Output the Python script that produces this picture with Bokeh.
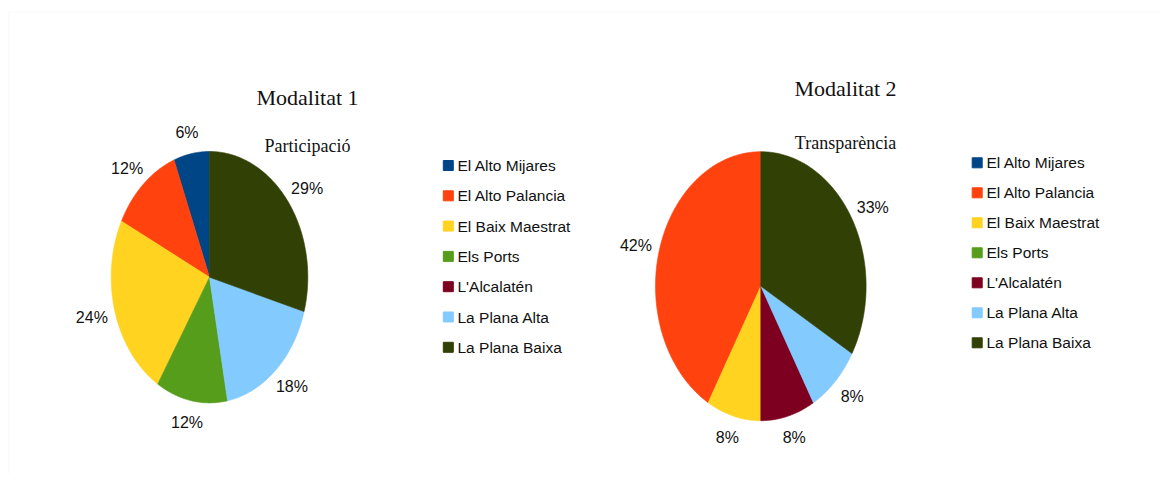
import numpy as np
from bokeh.plotting import figure
from bokeh.models import Range1d, ColumnDataSource, BoxAnnotation
from bokeh.core.properties import value
from bokeh.embed import file_html
from bokeh.resources import INLINE

# ---- data ----
categories = ["El Alto Mijares", "El Alto Palancia", "El Baix Maestrat", "Els Ports",
              "L'Alcalatén", "La Plana Alta", "La Plana Baixa"]
colors = ["#004586", "#ff420e", "#ffd320", "#579d1c", "#7e0021", "#83caff", "#314004"]
values_1 = [1, 2, 4, 2, 0, 3, 5]   # Modalitat 1 - Participació
values_2 = [0, 5, 1, 0, 1, 1, 4]   # Modalitat 2 - Transparència
titles = ["Modalitat 1", "Modalitat 2"]
subtitles = ["Participació", "Transparència"]

W, H = 1160, 474
p = figure(width=W, height=H, x_range=Range1d(0, W), y_range=Range1d(H, 0),
           output_backend="svg", toolbar_location=None, min_border=0,
           outline_line_color=None)
p.axis.visible = False
p.grid.visible = False
p.background_fill_color = "white"

p.add_layout(BoxAnnotation(left=8.5, right=1300, top=11.5, bottom=600,
                           fill_alpha=0, line_color="#e8e8e8", line_width=1))

SANS = value("Liberation Sans")
SERIF = value("Liberation Serif")


def draw_pie(vals, cx, cy, rx, ry, padx, pady):
    total = float(sum(vals))
    start = 0.0
    xs, ys, cols = [], [], []
    lx, ly, lt = [], [], []
    for v, c in zip(vals, colors):
        if v == 0:
            continue
        frac = v / total
        a0 = start * 2 * np.pi
        a1 = (start + frac) * 2 * np.pi
        t = np.linspace(a0, a1, max(int(frac * 360), 2) + 1)
        xs.append([cx] + list(cx - rx * np.sin(t)))
        ys.append([cy] + list(cy - ry * np.cos(t)))
        cols.append(c)
        mid = (a0 + a1) / 2
        lx.append(cx - (rx + padx) * np.sin(mid))
        ly.append(cy - (ry + pady) * np.cos(mid))
        lt.append(f"{round(100 * frac)}%")
        start += frac
    src = ColumnDataSource(dict(xs=xs, ys=ys, c=cols))
    p.patches("xs", "ys", source=src, fill_color="c", line_color="c", line_width=0.6)
    lsrc = ColumnDataSource(dict(x=lx, y=ly, t=lt))
    p.text("x", "y", text="t", source=lsrc, text_font=SANS, text_font_size="16px",
           text_align="center", text_baseline="middle", text_color="#111111")


def draw_legend(sq_x, txt_x, y0, step):
    ys = [y0 + i * step for i in range(len(categories))]
    src = ColumnDataSource(dict(y=ys, c=colors, t=categories,
                                sx=[sq_x] * len(ys), tx=[txt_x] * len(ys)))
    p.rect("sx", "y", width=10, height=10, source=src, fill_color="c", line_color="c")
    p.text("tx", "y", text="t", source=src, text_font=SANS, text_font_size="15.5px",
           text_align="left", text_baseline="middle", text_color="#111111")


def draw_titles(i, x, y_title, y_sub):
    p.text([x], [y_title], text=[titles[i]], text_font=SERIF, text_font_size="22px",
           text_align="center", text_baseline="alphabetic", text_color="#111111")
    p.text([x], [y_sub], text=[subtitles[i]], text_font=SERIF, text_font_size="18px",
           text_align="center", text_baseline="alphabetic", text_color="#111111")


draw_pie(values_1, 209, 276.7, 98.3, 125.7, 24, 22)
draw_pie(values_2, 760.3, 285.7, 105.3, 134.5, 24, 22)
draw_legend(447.8, 457, 165, 30.3)
draw_legend(976.7, 986, 162.3, 30.0)
draw_titles(0, 307, 97.3, 145.7)
draw_titles(1, 845, 87.7, 142.7)

open("out.html", "w").write(file_html(p, INLINE))
